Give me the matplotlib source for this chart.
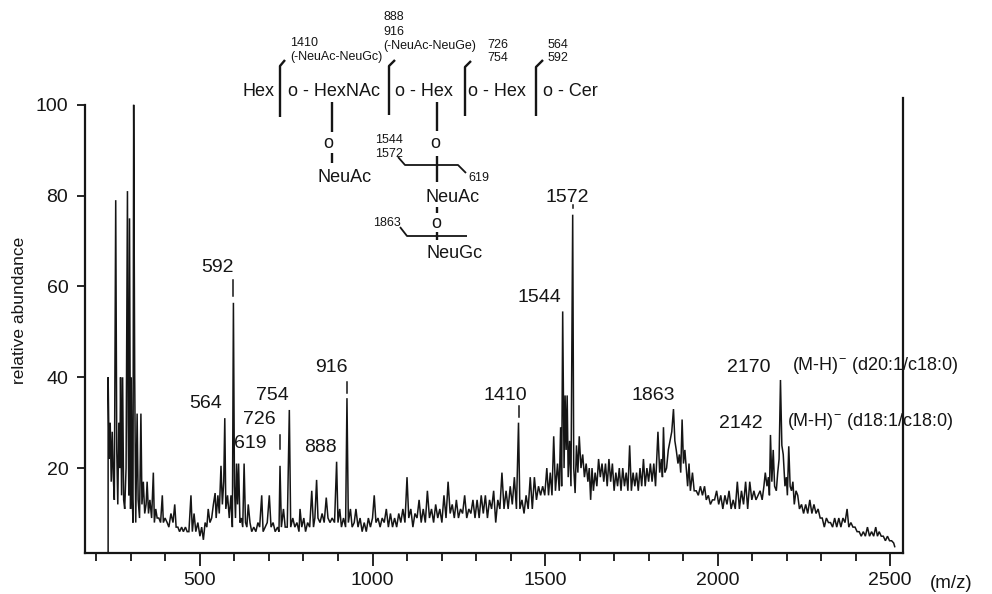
import matplotlib
matplotlib.use('Agg')
import matplotlib.pyplot as plt

plt.rcParams['font.family'] = ['Liberation Sans', 'DejaVu Sans']
plt.rcParams['mathtext.default'] = 'regular'

# spectrum, (m/z, relative abundance), zigzag of peaks and valleys
low_part = [(234,1.3),(234,40),(237,22),(240,30),(243,17),(246,28),(249,18),(252,13),(256,79),(259,24),
            (262,12),(265,30),(268,20),(270,40),(273,14),(276,40),(279,13),(282,11),(286,20),(290,81),
            (292,30),(294,14),(296,75),(299,11),(301,40),(304,13),(306,8),(308,100),(311,40),(314,8),
            (318,32),(321,13),(325,9),(329,32),(332,12),(336,17),(340,10),(344,12),(347,17),(351,10),
            (355,13),(360,9),(365,19),(368,8),(372,11),(376,9),(381,9),(386,8),(391,14),(394,8),
            (399,9),(405,8),(410,7),(416,10),(422,8),(427,12),(431,7),(436,7),(441,6),(447,7),
            (452,6),(458,7),(463,6),(468,6),(474,14),(478,6),(483,10),(488,6),(494,8),(500,5),
            (505,7),(510,4.2),(515,8),(520,7),(524,11),(529,8),(534,9),(539,12),(544,14.5),(547,9),
            (552,14),(556,10),(561,20.5),(565,12),(569,17),(572,31),(575,11),(580,14),(585,9),(590,14),
            (594,7),(597,56.4),(600,16),(603,9),(606,21),(609,12),(612,21),(616,8),(620,9),(624,7),
            (628,21),(632,8),(636,7),(640,12),(645,8),(650,6),(656,7),(662,6),(668,8),(673,7),
            (679,14),(683,6),(689,7),(695,8),(701,14),(706,7),(712,8),(718,6),(725,7),(729,6),
            (732,20.5),(736,7),(742,11),(747,7),(753,7),(759,32.8),(763,7),(769,9),(775,7),(781,8),
            (787,6),(790,11),(795,7),(801,9),(806,6),(812,8),(818,7),(824,15),(829,7),(833,9),
            (838,17.4),(842,9),(848,8),(854,10),(860,8),(866,13.5),(871,9),(877,8),(883,9),(890,8),
            (896,21.4),(900,8),(905,11),(910,7),(916,9),(922,7),(926,35.4),(930,8),(936,11),(941,7)]

mid_part = [(947,8),(952,11),(958,7),(964,9),(970,6),(976,8),(982,6),(988,9),(994,7),(1000,9),
            (1005,14),(1010,8),(1016,9),(1022,7),(1028,9),(1034,8),(1040,11),(1046,7),(1052,10),(1058,7),
            (1064,9),(1070,7),(1076,10),(1082,8),(1088,11),(1094,8),(1100,18),(1105,9),(1111,11),(1117,7),
            (1123,10),(1129,9),(1135,13),(1141,8),(1147,11),(1153,8),(1159,15),(1165,9),(1171,11),(1177,8),
            (1183,12),(1189,9),(1195,11),(1201,8),(1207,14),(1213,9),(1219,17),(1225,10),(1231,12),(1237,9),
            (1243,13),(1249,9),(1255,11),(1261,10),(1267,14),(1273,9),(1279,11),(1285,10),(1291,13),(1297,9),
            (1303,13),(1309,9),(1315,14),(1321,10),(1327,14),(1333,9),(1339,13),(1345,11),(1351,15),(1357,8),
            (1363,13),(1369,11),(1375,19),(1381,11),(1387,15),(1393,11),(1399,16),(1405,12),(1411,18),(1417,11),
            (1423,30),(1427,11),(1433,13),(1439,10),(1445,14),(1451,11),(1457,18),(1463,11),(1469,18),(1475,13),
            (1481,16),(1487,14),(1493,16),(1499,14),(1505,20),(1510,14),(1515,19),(1520,14),(1525,27),(1530,15),
            (1536,21),(1541,15),(1545,29),(1548,16),(1551,54.5),(1555,20),(1558,36),(1561,24),(1564,36),(1567,18),
            (1571,26),(1575,16),(1580,75.8),(1583,20),(1587,14.5),(1591,25),(1595,19),(1599,27),(1604,20),(1609,23),
            (1614,18),(1619,21),(1624,17),(1628,20),(1632,13),(1636,20),(1640,15),(1645,19),(1650,16),(1655,22),
            (1660,18),(1665,21),(1670,17),(1675,21),(1680,16),(1685,22),(1690,17),(1695,21),(1700,15),(1705,19),
            (1710,16),(1715,20),(1720,15),(1725,20),(1730,16),(1735,19),(1740,15),(1745,25),(1750,15),(1755,19)]

high_part = [(1760,16),(1765,19),(1770,15),(1775,20),(1780,16),(1785,22),(1790,16),(1795,20),(1800,17),(1805,21),
             (1810,17),(1815,21),(1820,16),(1827,28),(1832,19),(1837,22),(1840,18),(1843,29),(1847,19),(1852,20),
             (1857,24),(1862,26),(1867,28),(1872,33),(1876,26),(1880,24),(1885,21),(1889,23),(1893,19),(1897,30.7),
             (1901,21),(1905,24),(1909,20),(1913,16),(1917,21),(1921,15),(1927,19),(1932,15),(1938,15),(1944,14),
             (1950,16),(1956,14),(1962,16),(1967,13),(1973,14),(1979,12),(1985,13),(1991,13),(1997,15),(2003,12),
             (2009,14),(2015,11),(2021,14),(2027,12),(2033,15),(2039,11),(2045,13),(2051,11),(2057,17),(2063,11),
             (2069,15),(2075,12),(2081,17),(2087,11),(2093,17),(2099,13),(2105,15),(2111,13),(2117,14),(2123,15),
             (2129,13),(2134,16),(2138,19),(2143,16),(2147,18),(2150,14),(2153,27.3),(2157,17),(2161,24),(2165,16),
             (2170,15),(2174,19),(2178,22),(2182,39.4),(2186,25),(2190,23),(2195,16),(2199,18),(2202,14),(2206,24.8),
             (2210,16),(2214,15),(2218,17),(2222,12),(2227,15),(2232,14),(2237,11),(2243,12),(2249,10),(2255,12),
             (2261,10),(2267,13),(2273,10),(2279,12),(2285,10),(2291,11),(2297,9),(2303,9),(2309,7),(2315,9),
             (2321,8),(2327,8),(2333,7),(2339,9),(2345,7),(2351,9),(2357,7),(2363,9),(2369,8),(2375,11),
             (2380,7),(2386,8),(2392,7),(2398,7),(2404,6),(2410,6),(2416,5),(2422,6),(2428,5),(2434,7),
             (2440,5),(2446,6),(2452,5),(2458,7),(2463,5),(2468,6),(2474,5),(2480,5),(2486,4),(2492,5),
             (2498,4),(2504,4),(2510,3.5),(2513,2.7)]

spectrum = low_part + mid_part + high_part
mz = [p[0] for p in spectrum]
abundance = [p[1] for p in spectrum]

# broken tips above the labelled peaks (scan gaps): m/z, from, to
peak_tips = [(597,57.8,61.5),(732,24.2,27.3),(926,36.6,39),(1423,31.3,33.7),(1580,77.3,78)]

x_major = [500,1000,1500,2000,2500]
x_minor = [200,300,400,600,700,800,900,1100,1200,1300,1400,1600,1700,1800,1900,2100,2200,2300,2400]
y_major = [20,40,60,80,100]

fig = plt.figure(figsize=(9.92,5.94), dpi=100)
ax = fig.add_axes([85/992, 1-553/594, (903-85)/992, (553-98)/594])
ax.plot(mz, abundance, color='#151515', lw=1.1, solid_joinstyle='miter')
for m, a, b in peak_tips:
    ax.plot([m,m], [a,b], color='#151515', lw=1.1)

ax.set_xlim(167, 2537)
ax.set_ylim(1.3, 101.5)
ax.spines['top'].set_visible(False)
for s in ['left','right','bottom']:
    ax.spines[s].set_linewidth(1.6)
    ax.spines[s].set_color('#151515')
ax.spines['left'].set_bounds(1.3, 100)
ax.set_xticks(x_major)
ax.set_xticks(x_minor, minor=True)
ax.set_yticks(y_major)
ax.tick_params(axis='x', which='major', length=9, width=1.3, labelsize=14, pad=5, color='#151515', labelcolor='#151515')
ax.tick_params(axis='x', which='minor', length=6, width=1.3, color='#151515')
ax.tick_params(axis='y', length=6, width=1.3, labelsize=14, pad=6, color='#151515', labelcolor='#151515')

# overlay in picture pixels for the labels and the glycan drawing
ov = fig.add_axes([0,0,1,1])
ov.set_xlim(0,992)
ov.set_ylim(594,0)
ov.axis('off')
ov.patch.set_alpha(0)

ink = '#151515'
def label(x, y, s, size=14, ha='center'):
    ov.text(x, y, s, fontsize=size, ha=ha, va='center', color=ink)

def stroke(xs, ys, lw=1.7):
    ov.plot(xs, ys, color=ink, lw=lw, solid_capstyle='butt')

ov.text(20, 310, 'relative abundance', fontsize=12.5, rotation=90, ha='center', va='center', color=ink)
label(951, 583, '(m/z)', 13.5)

label(217, 268, '592')
label(206, 403, '564')
label(259, 420, '726')
label(272, 396, '754')
label(250, 443, '619')
label(320, 447, '888')
label(331, 368, '916')
label(505, 396, '1410')
label(539, 297, '1544')
label(567, 197, '1572')
label(653, 396, '1863')
label(749, 367, '2170')
label(741, 423, '2142')
label(792, 365, '(M-H)$^{-}$ (d20:1/c18:0)', 13, ha='left')
label(787, 422, '(M-H)$^{-}$ (d18:1/c18:0)', 13, ha='left')

# glycan structure
label(242, 92, 'Hex', 13, ha='left')
label(288, 92, 'o - HexNAc', 13, ha='left')
label(395, 92, 'o - Hex', 13, ha='left')
label(468, 92, 'o - Hex', 13, ha='left')
label(543, 92, 'o - Cer', 13, ha='left')
label(328, 144, 'o', 13)
label(345, 177, 'NeuAc', 13)
label(435, 143, 'o', 13)
label(453, 198, 'NeuAc', 13)
label(436, 223, 'o', 13)
label(455, 254, 'NeuGc', 13)

label(383, 17, '888', 9, ha='left')
label(383, 32, '916', 9, ha='left')
label(383, 46, '(-NeuAc-NeuGe)', 9, ha='left')
label(487, 45, '726', 9, ha='left')
label(487, 58, '754', 9, ha='left')
label(548, 45, '564', 9, ha='left')
label(548, 58, '592', 9, ha='left')
label(290, 43, '1410', 9, ha='left')
label(290, 57, '(-NeuAc-NeuGc)', 9, ha='left')
label(375, 140, '1544', 9, ha='left')
label(375, 154, '1572', 9, ha='left')
label(468, 178, '619', 9, ha='left')
label(373, 223, '1863', 9, ha='left')

stroke([285,280,280], [60,66,117])
stroke([395,389,389], [60,66,115])
stroke([471,465,465], [61,67,116])
stroke([543,536,536], [60,67,116])
stroke([332,332], [102,132])
stroke([332,332], [153,163])
stroke([437,437], [102,131])
stroke([437,437], [156,182])
stroke([437,437], [207,213])
stroke([437,437], [232,240])
stroke([398,405,458,466], [157,165,165,173], 1.3)
stroke([400,407,467], [227,236,236], 1.3)

fig.savefig('out.png', dpi=100, facecolor='white')
